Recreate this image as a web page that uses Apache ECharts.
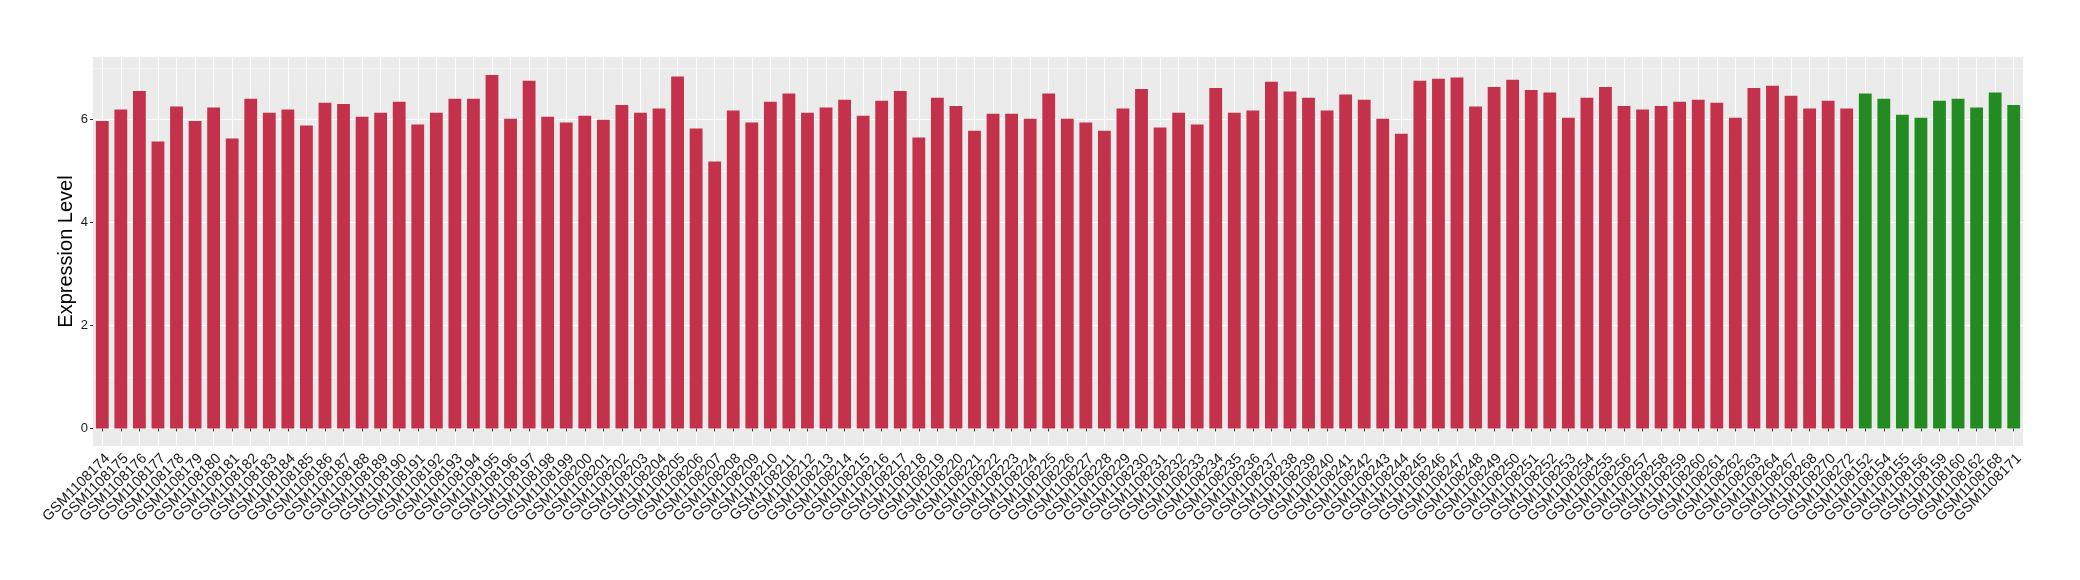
<!DOCTYPE html>
<html>
<head>
<meta charset="utf-8">
<script src="https://cdn.jsdelivr.net/npm/echarts@6/dist/echarts.min.js"></script>
<style>
  html, body { margin: 0; padding: 0; background: #ffffff; }
  #chart { width: 2080px; height: 580px; }
</style>
</head>
<body>
<div id="chart"></div>
<script>
// ---- Data ----
const redSamples = [
  'GSM1108174','GSM1108175','GSM1108176','GSM1108177','GSM1108178','GSM1108179','GSM1108180','GSM1108181',
  'GSM1108182','GSM1108183','GSM1108184','GSM1108185','GSM1108186','GSM1108187','GSM1108188','GSM1108189',
  'GSM1108190','GSM1108191','GSM1108192','GSM1108193','GSM1108194','GSM1108195','GSM1108196','GSM1108197',
  'GSM1108198','GSM1108199','GSM1108200','GSM1108201','GSM1108202','GSM1108203','GSM1108204','GSM1108205',
  'GSM1108206','GSM1108207','GSM1108208','GSM1108209','GSM1108210','GSM1108211','GSM1108212','GSM1108213',
  'GSM1108214','GSM1108215','GSM1108216','GSM1108217','GSM1108218','GSM1108219','GSM1108220','GSM1108221',
  'GSM1108222','GSM1108223','GSM1108224','GSM1108225','GSM1108226','GSM1108227','GSM1108228','GSM1108229',
  'GSM1108230','GSM1108231','GSM1108232','GSM1108233','GSM1108234','GSM1108235','GSM1108236','GSM1108237',
  'GSM1108238','GSM1108239','GSM1108240','GSM1108241','GSM1108242','GSM1108243','GSM1108244','GSM1108245',
  'GSM1108246','GSM1108247','GSM1108248','GSM1108249','GSM1108250','GSM1108251','GSM1108252','GSM1108253',
  'GSM1108254','GSM1108255','GSM1108256','GSM1108257','GSM1108258','GSM1108259','GSM1108260','GSM1108261',
  'GSM1108262','GSM1108263','GSM1108264','GSM1108267','GSM1108268','GSM1108270','GSM1108272'
];
const redValues = [
  5.97, 6.19, 6.55, 5.57, 6.25, 5.97, 6.23, 5.63,
  6.40, 6.13, 6.19, 5.88, 6.32, 6.30, 6.05, 6.13,
  6.34, 5.90, 6.13, 6.40, 6.40, 6.86, 6.01, 6.75,
  6.05, 5.94, 6.07, 5.99, 6.28, 6.13, 6.21, 6.83,
  5.82, 5.18, 6.17, 5.94, 6.34, 6.50, 6.13, 6.23,
  6.38, 6.07, 6.36, 6.55, 5.65, 6.42, 6.26, 5.78,
  6.11, 6.11, 6.01, 6.50, 6.01, 5.94, 5.78, 6.21,
  6.59, 5.84, 6.13, 5.90, 6.61, 6.13, 6.17, 6.73,
  6.54, 6.42, 6.17, 6.48, 6.38, 6.01, 5.72, 6.75,
  6.79, 6.81, 6.25, 6.63, 6.77, 6.57, 6.52, 6.03,
  6.42, 6.63, 6.26, 6.19, 6.26, 6.34, 6.38, 6.32,
  6.03, 6.61, 6.65, 6.46, 6.21, 6.36, 6.21
];
const greenSamples = [
  'GSM1108152','GSM1108154','GSM1108155','GSM1108156','GSM1108159',
  'GSM1108160','GSM1108162','GSM1108168','GSM1108171'
];
const greenValues = [6.50, 6.40, 6.09, 6.03, 6.36, 6.40, 6.23, 6.52, 6.28];
const majorTicks = [0, 2, 4, 6];
const minorTicks = [1, 3, 5, 7];
const yTitle = 'Expression Level';

// ---- Build chart ----
const RED = '#C3314A';
const GREEN = '#228B22';
const categories = redSamples.concat(greenSamples);
const barData = redValues.map(v => ({ value: v, itemStyle: { color: RED } }))
  .concat(greenValues.map(v => ({ value: v, itemStyle: { color: GREEN } })));

const FONT = 'Liberation Sans, Arial, Helvetica, sans-serif';
const chart = echarts.init(document.getElementById('chart'), null, { renderer: 'canvas' });
chart.setOption({
  animation: false,
  backgroundColor: '#ffffff',
  grid: {
    left: 93, right: 57, top: 57, bottom: 134,
    show: true, backgroundColor: '#EBEBEB', borderWidth: 0
  },
  xAxis: {
    type: 'category',
    data: categories,
    boundaryGap: true,
    axisLine: { show: false },
    axisTick: { show: true, alignWithLabel: true, length: 3, lineStyle: { color: '#333333', width: 1 } },
    axisLabel: {
      rotate: 45, interval: 0, margin: 5,
      align: 'right', verticalAlign: 'top',
      fontFamily: FONT, fontSize: 14.5, color: '#1a1a1a'
    },
    splitLine: { show: true, alignWithLabel: true, lineStyle: { color: '#ffffff', width: 1.1 } }
  },
  yAxis: [
    {
      type: 'value',
      min: -0.34, max: 7.21,
      name: yTitle,
      nameLocation: 'middle',
      nameGap: 17,
      nameMoveOverlap: false,
      nameTextStyle: { fontFamily: FONT, fontSize: 20, color: '#000000' },
      axisLine: { show: false },
      axisTick: { show: true, length: 3, customValues: majorTicks, lineStyle: { color: '#333333', width: 1 } },
      axisLabel: { margin: 5, customValues: majorTicks, fontFamily: FONT, fontSize: 13, color: '#1a1a1a' },
      splitLine: { show: true, lineStyle: { color: '#ffffff', width: 1.1 } }
    },
    {
      type: 'value',
      min: -0.34, max: 7.21,
      position: 'left',
      axisLine: { show: false },
      axisTick: { show: false, customValues: minorTicks },
      axisLabel: { show: false, customValues: minorTicks },
      splitLine: { show: true, lineStyle: { color: '#ffffff', width: 0.5 } }
    }
  ],
  series: [{
    type: 'bar',
    data: barData,
    barWidth: '69%',
    yAxisIndex: 0,
    z: 3
  }]
});
</script>
</body>
</html>
